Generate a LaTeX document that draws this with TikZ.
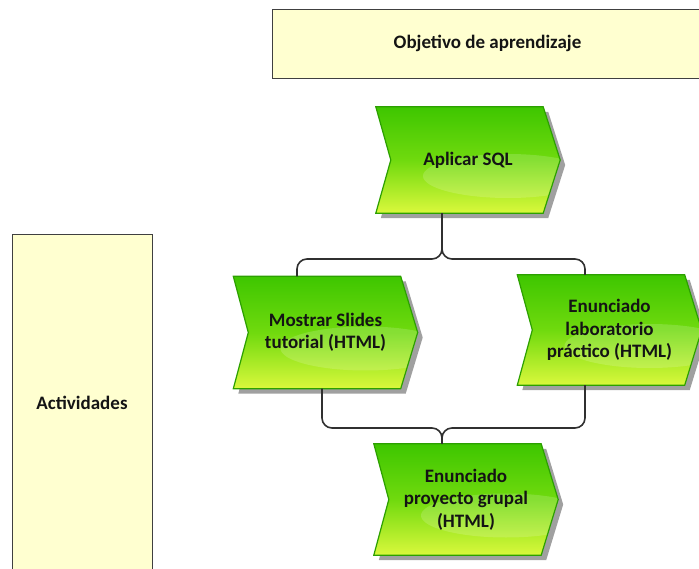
\documentclass[tikz,border=0pt]{standalone}
\usepackage{fontspec}
\setmainfont{Carlito}
\usetikzlibrary{calc,backgrounds}

\definecolor{paper}{RGB}{255,255,208}
\definecolor{frame}{RGB}{64,64,64}
\definecolor{wire}{RGB}{48,48,48}
\definecolor{evtop}{RGB}{62,198,0}
\definecolor{evmid}{RGB}{112,218,14}
\definecolor{evbot}{RGB}{218,248,60}
\definecolor{evrim}{RGB}{44,160,0}
\definecolor{evshade}{RGB}{160,160,160}
\definecolor{ink}{RGB}{20,20,20}

\tikzset{
  labelfont/.style={font=\bfseries\fontsize{19}{22.5}\selectfont, text=ink},
  panel/.style={draw=frame, line width=0.9pt, fill=paper, inner sep=0pt, labelfont},
  evt/.style={minimum width=184pt, inner sep=0pt, align=center, labelfont},
  wireline/.style={draw=wire, line width=1.6pt, rounded corners=10pt},
}

% event shape (chevron) drawn behind the named text node
\newcommand\evshape[1]{%
  \begin{scope}[on background layer]
    \fill[evshade]
      ($(#1.north west)+(5,5)$) -- ($(#1.north east)+(-12,5)$) -- ($(#1.east)+(5,5)$)
      -- ($(#1.south east)+(-12,5)$) -- ($(#1.south west)+(5,5)$) -- ($(#1.west)+(20,5)$) -- cycle;
    \path[top color=evtop, bottom color=evbot, middle color=evmid]
      (#1.north west) -- ($(#1.north east)+(-17,0)$) -- (#1.east)
      -- ($(#1.south east)+(-17,0)$) -- (#1.south west) -- ($(#1.west)+(15,0)$) -- cycle;
    \begin{scope}
      \clip (#1.north west) -- ($(#1.north east)+(-17,0)$) -- (#1.east)
        -- ($(#1.south east)+(-17,0)$) -- (#1.south west) -- ($(#1.west)+(15,0)$) -- cycle;
      \fill[white, opacity=0.16] ($(#1.center)+(40,16)$) ellipse [x radius=85pt, y radius=22pt];
    \end{scope}
    \draw[evrim, line width=1.2pt, line join=miter]
      (#1.north west) -- ($(#1.north east)+(-17,0)$) -- (#1.east)
      -- ($(#1.south east)+(-17,0)$) -- (#1.south west) -- ($(#1.west)+(15,0)$) -- cycle;
  \end{scope}}

\begin{document}
\begin{tikzpicture}[x=1pt, y=-1pt]
  \useasboundingbox (0,0) rectangle (699,569);

  % swimlane headers
  \node[panel, minimum width=431pt, minimum height=69pt] (goal) at (487.5,43.5) {Objetivo de aprendizaje};
  \node[panel, minimum width=140pt, minimum height=338pt] (lane) at (82,403) {Actividades};

  % events
  \node[evt, minimum height=106pt] (sql)  at (468,160)   {Aplicar SQL};
  \node[evt, minimum height=112pt] (show) at (325.5,332.5) {Mostrar Slides\\tutorial (HTML)};
  \node[evt, minimum height=110pt] (lab)  at (609.5,330) {Enunciado\\laboratorio\\práctico (HTML)};
  \node[evt, minimum height=111pt] (team) at (466,499.5) {Enunciado\\proyecto grupal\\(HTML)};

  \evshape{sql}
  \evshape{show}
  \evshape{lab}
  \evshape{team}

  % branch points
  \coordinate (split) at (442,259);
  \coordinate (join)  at (442,428);
  \coordinate (showtop) at (297,0);
  \coordinate (showbot) at (322,0);
  \coordinate (labx) at (585,0);

  % connectors
  \draw[wireline] (sql.south -| split) -- (split) -| (show.north -| showtop);
  \draw[wireline] (sql.south -| split) -- (split) -| (lab.north -| labx);
  \draw[wireline] (show.south -| showbot) |- (join) -- (team.north -| join);
  \draw[wireline] (lab.south -| labx) |- (join) -- (team.north -| join);
\end{tikzpicture}
\end{document}
